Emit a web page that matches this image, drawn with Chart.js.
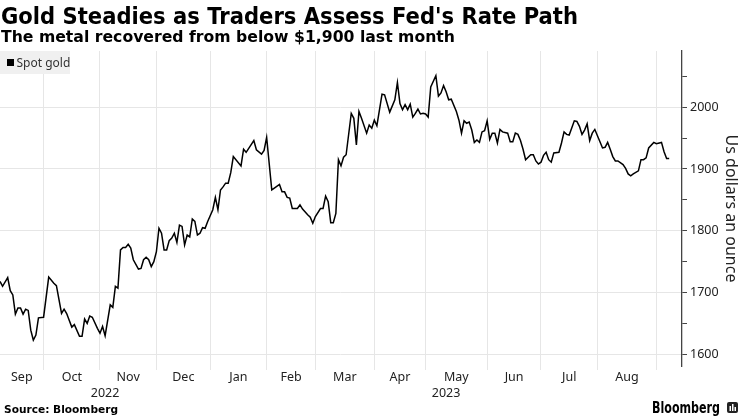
<!DOCTYPE html>
<html>
<head>
<meta charset="utf-8">
<script src="https://cdn.jsdelivr.net/npm/chart.js@4.4.0/dist/chart.umd.min.js"></script>
<style>
html, body { margin: 0; padding: 0; background: #fff; }
#wrap { width: 740px; height: 416px; }
</style>
</head>
<body>
<div id="wrap"><canvas id="grafico" width="740" height="416"></canvas></div>
<script>
// giorni di contrattazione a partire dall'8 settembre 2022
const tradingDay = [
  0, 1, 3, 4, 5, 6, 7, 8, 9, 10,
  11, 12, 13, 14, 15, 17, 19, 21, 22, 24,
  25, 26, 28, 29, 31, 32, 33, 34, 35, 36,
  38, 39, 40, 41, 43, 44, 45, 46, 47, 48,
  49, 50, 51, 52, 54, 55, 56, 57, 58, 59,
  60, 61, 62, 63, 64, 65, 66, 67, 68, 69,
  70, 71, 72, 73, 74, 75, 76, 77, 78, 79,
  80, 81, 83, 84, 85, 86, 87, 88, 89, 90,
  91, 94, 95, 96, 99, 100, 102, 103, 104, 106,
  107, 109, 110, 111, 112, 113, 114, 116, 117, 118,
  120, 121, 122, 123, 125, 126, 127, 128, 129, 130,
  131, 132, 133, 134, 135, 137, 138, 139, 140, 141,
  143, 144, 145, 146, 147, 149, 150, 152, 154, 155,
  156, 157, 158, 159, 160, 161, 162, 163, 164, 165,
  166, 167, 168, 170, 171, 172, 173, 174, 175, 176,
  178, 179, 180, 181, 182, 183, 184, 185, 186, 187,
  188, 189, 190, 191, 192, 193, 194, 195, 196, 198,
  199, 200, 201, 202, 203, 204, 205, 207, 208, 209,
  210, 211, 212, 213, 214, 215, 216, 218, 219, 220,
  221, 222, 224, 225, 226, 227, 228, 229, 230, 231,
  232, 234, 235, 236, 237, 238, 239, 240, 241, 243,
  244, 245, 246, 247, 249, 250, 251, 252, 253, 255,
  256, 258, 259, 260, 261
];
// spot gold, dollari per oncia
const spotGold = [
  1718, 1710, 1724, 1703, 1696, 1665, 1675, 1675, 1665, 1673,
  1671, 1639, 1623, 1631, 1659, 1660, 1725, 1715, 1711, 1666,
  1673, 1666, 1644, 1648, 1629, 1629, 1657, 1650, 1662, 1660,
  1642, 1634, 1645, 1630, 1680, 1676, 1710, 1707, 1769, 1773,
  1773, 1778, 1772, 1753, 1738, 1739, 1753, 1757, 1753, 1742,
  1750, 1766, 1804, 1796, 1769, 1769, 1784, 1788, 1796, 1781,
  1809, 1807, 1777, 1793, 1790, 1819, 1815, 1793, 1796, 1805,
  1804, 1815, 1834, 1854, 1834, 1866, 1871, 1877, 1877, 1894,
  1920, 1905, 1932, 1927, 1946, 1931, 1924, 1930, 1951, 1866,
  1869, 1875, 1863, 1863, 1854, 1853, 1836, 1836, 1842, 1835,
  1826, 1822, 1812, 1823, 1836, 1836, 1856, 1847, 1813, 1813,
  1828, 1915, 1905, 1919, 1923, 1990, 1982, 1939, 1993, 1982,
  1958, 1971, 1966, 1979, 1970, 2021, 2020, 1992, 2012, 2040,
  2006, 1996, 2004, 1996, 2005, 1984, 1990, 1997, 1989, 1990,
  1989, 1984, 2033, 2051, 2018, 2023, 2035, 2025, 2012, 2013,
  1993, 1979, 1958, 1978, 1974, 1976, 1963, 1943, 1947, 1943,
  1960, 1962, 1978, 1948, 1958, 1958, 1942, 1964, 1960, 1958,
  1944, 1944, 1958, 1956, 1946, 1932, 1915, 1923, 1923, 1913,
  1908, 1911, 1922, 1927, 1915, 1911, 1926, 1927, 1942, 1960,
  1956, 1955, 1978, 1977, 1969, 1956, 1963, 1973, 1946, 1958,
  1964, 1944, 1934, 1935, 1943, 1932, 1920, 1913, 1913, 1907,
  1901, 1892, 1889, 1892, 1897, 1915, 1915, 1918, 1934, 1943,
  1941, 1943, 1928, 1917, 1917
];
// primo giorno di contrattazione di ogni mese (Oct 2022 .. Sep 2023)
const monthStarts = [17, 39, 61, 82, 104, 123, 146, 166, 190, 211, 233, 256];
const monthNames = ['Sep', 'Oct', 'Nov', 'Dec', 'Jan', 'Feb', 'Mar', 'Apr', 'May', 'Jun', 'Jul', 'Aug'];
const yearNames = ['2022', '2023'];
const yearStarts = [0, 82];
const yTicks = [1600, 1650, 1700, 1750, 1800, 1850, 1900, 1950, 2000, 2050];

const X_MIN = 0, X_MAX = 266;
const monthBounds = [X_MIN].concat(monthStarts);
const yearBounds = yearStarts.concat([X_MAX]);

const FONT = 'Noto Sans';

function testoLargo(ctx, txt, x, y, font, larghezza){
    ctx.font = font;
    const w = ctx.measureText(txt).width;
    ctx.save();
    ctx.translate(x, y);
    ctx.scale(larghezza / w, 1);
    ctx.fillText(txt, 0, 0);
    ctx.restore();
}

const decorazioni = {
    id: 'decorazioni',
    afterDraw(chart){
        const ctx = chart.ctx;
        ctx.save();
        ctx.fillStyle = '#000';
        ctx.textBaseline = 'alphabetic';
        ctx.textAlign = 'left';
        testoLargo(ctx, "Gold Steadies as Traders Assess Fed's Rate Path", 1, 23.5, 'bold 23.5px "DejaVu Sans"', 577);
        testoLargo(ctx, 'The metal recovered from below $1,900 last month', 1, 42, 'bold 15.5px "DejaVu Sans"', 454);
        testoLargo(ctx, 'Source: Bloomberg', 4, 413, 'bold 11px "DejaVu Sans"', 114);
        testoLargo(ctx, 'Bloomberg', 652, 413, 'bold 15px "DejaVu Sans"', 68);

        // icona
        ctx.fillStyle = '#222';
        ctx.beginPath();
        ctx.roundRect(727, 402, 11, 11, 2);
        ctx.fill();
        ctx.fillStyle = '#fff';
        ctx.fillRect(729.5, 406, 1.5, 5);
        ctx.fillRect(732, 404, 1.5, 7);
        ctx.fillRect(734.5, 407, 1.5, 4);

        // legenda
        const ca = chart.chartArea;
        ctx.fillStyle = '#f0f0f0';
        ctx.fillRect(ca.left, ca.top, 70, 23);
        ctx.fillStyle = '#000';
        ctx.fillRect(ca.left + 7, ca.top + 8, 7, 7);
        ctx.fillStyle = '#333';
        ctx.font = '12px "' + FONT + '"';
        ctx.fillText(chart.data.datasets[0].label, ca.left + 16.5, ca.top + 16);
        ctx.restore();
    }
};

const assiMesi = {
    type: 'linear', position: 'bottom', min: X_MIN, max: X_MAX, weight: 1,
    afterBuildTicks: s => { s.ticks = monthNames.map((n, i) => ({ value: (monthBounds[i] + monthBounds[i + 1]) / 2 })); },
    ticks: { callback: (v, i) => monthNames[i], autoSkip: false, maxRotation: 0, color: '#222', font: { family: FONT, size: 12.5 }, padding: 0 },
    grid: { display: false, drawTicks: false },
    border: { display: false },
    afterFit: s => { s.height = 14; }
};

const assiAnni = {
    type: 'linear', position: 'bottom', min: X_MIN, max: X_MAX, weight: 2,
    afterBuildTicks: s => { s.ticks = yearNames.map((n, i) => ({ value: (yearBounds[i] + yearBounds[i + 1]) / 2 })); },
    ticks: { callback: (v, i) => yearNames[i], autoSkip: false, maxRotation: 0, color: '#222', font: { family: FONT, size: 12.5 }, padding: 2 },
    grid: { display: false, drawTicks: false },
    border: { display: false },
    afterFit: s => { s.height = 18; }
};

const config = {
    type: 'line',
    data: {
        datasets: [{
            label: 'Spot gold',
            data: tradingDay.map((d, i) => ({ x: d, y: spotGold[i] })),
            borderColor: '#000',
            borderWidth: 1.5,
            pointRadius: 0,
            tension: 0,
            xAxisID: 'x',
            yAxisID: 'y'
        }]
    },
    options: {
        responsive: false,
        animation: false,
        layout: { padding: { top: 51, bottom: 14, left: 0, right: 0 } },
        plugins: { legend: { display: false }, tooltip: { enabled: false } },
        scales: {
            x: {
                type: 'linear', position: 'bottom', min: X_MIN, max: X_MAX, weight: 0,
                afterBuildTicks: s => { s.ticks = monthStarts.map(v => ({ value: v })); },
                grid: { color: '#e6e6e6', tickLength: 4 },
                border: { display: false },
                ticks: { display: false },
                afterFit: s => { s.height = 4; }
            },
            xm: assiMesi,
            xy: assiAnni,
            y: {
                position: 'right', min: 1581, max: 2091,
                afterBuildTicks: s => { s.ticks = yTicks.map(v => ({ value: v })); },
                grid: {
                    color: c => (c.tick && c.tick.value % 100 === 0) ? '#e6e6e6' : 'rgba(0,0,0,0)',
                    tickColor: '#444',
                    tickLength: 5
                },
                border: { color: '#444', width: 1.3 },
                ticks: {
                    callback: v => v % 100 === 0 ? String(v) : '',
                    color: '#222', font: { family: FONT, size: 12.5 }, padding: 3
                },
                title: { display: true, text: 'Us dollars an ounce', color: '#222', font: { family: FONT, size: 16 }, padding: 0 },
                afterFit: s => { s.width = 58; }
            }
        }
    },
    plugins: [decorazioni]
};

new Chart(document.getElementById('grafico').getContext('2d'), config);
</script>
</body>
</html>
